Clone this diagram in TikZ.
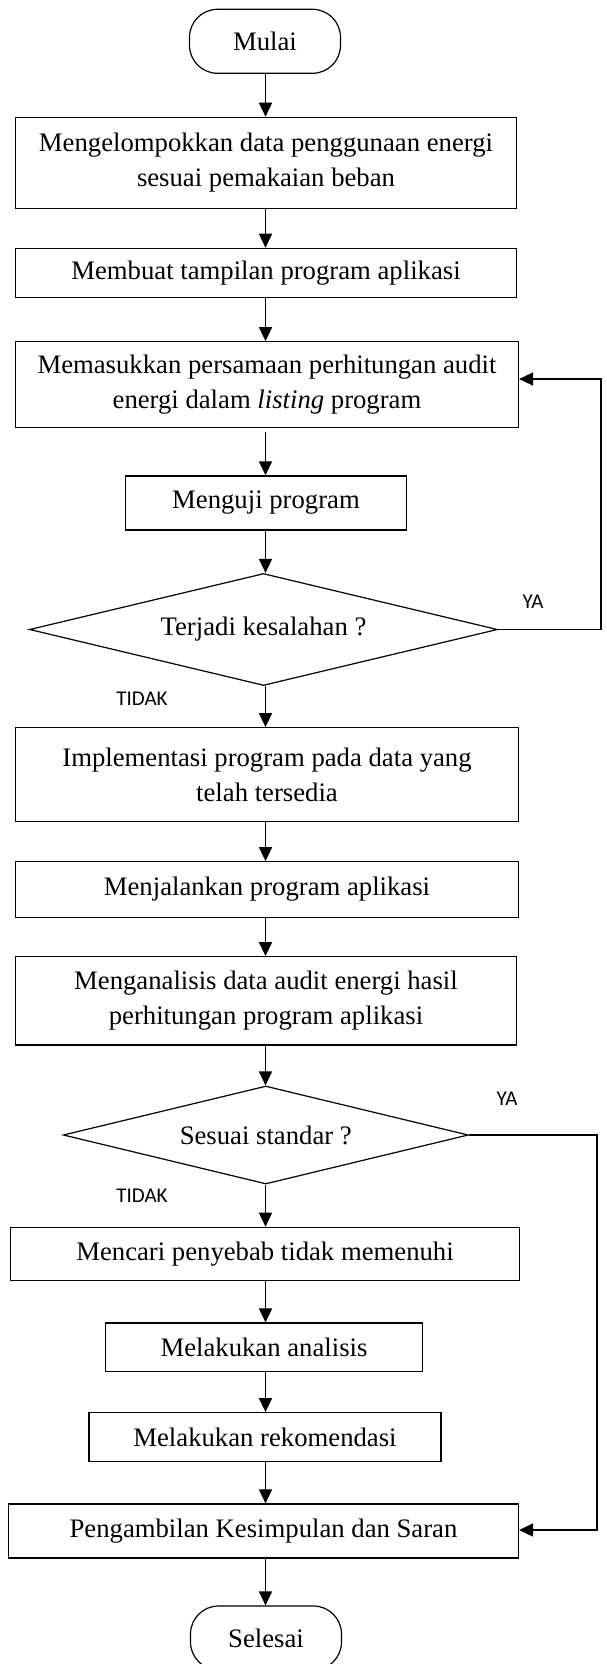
\documentclass[tikz,border=0pt]{standalone}
\usepackage{fontspec}
\setmainfont{Liberation Serif}
\newfontfamily\labelfont{Carlito}
\usetikzlibrary{shapes.geometric,arrows.meta}
\begin{document}
\begin{tikzpicture}[x=1pt,y=-1pt,
  txt/.style={font=\fontsize{26.7}{34.5}\selectfont},
  box/.style={txt, draw, line width=1.2pt, rectangle, inner sep=0pt, align=center},
  term/.style={txt, draw, line width=1.2pt, rounded corners=28pt, minimum width=151pt, minimum height=64pt, inner sep=0pt},
  dec/.style={txt, draw, line width=1.2pt, diamond, inner sep=0pt},
  conn/.style={line width=1.6pt, -{Triangle[width=13pt,length=14pt]}},
  lbl/.style={font=\labelfont\fontsize{21}{25}\selectfont, inner sep=0pt}
]
\useasboundingbox (0,0) rectangle (606,1664);

\node[term] (start) at (265,41.3) {Mulai};
\node[box, minimum width=501pt, minimum height=91pt] (b1) at (266,162.8)
  {Mengelompokkan data penggunaan energi\\sesuai pemakaian beban};
\node[box, minimum width=501pt, minimum height=49pt] (b2) at (266,272.8)
  {Membuat tampilan program aplikasi};
\node[box, minimum width=503pt, minimum height=86pt] (b3) at (267,384.7)
  {Memasukkan persamaan perhitungan audit\\energi dalam \textit{listing} program};
\node[box, minimum width=281pt, minimum height=54pt] (b4) at (266,502.9)
  {Menguji program};
\node[dec, minimum width=468pt, minimum height=112pt, aspect=4.18] (d1) at (263.5,629.5)
  {Terjadi kesalahan ?};
\node[box, minimum width=503pt, minimum height=94pt] (b5) at (267,774.7)
  {Implementasi program pada data yang\\telah tersedia};
\node[box, minimum width=503pt, minimum height=55.6pt] (b6) at (267,889.5)
  {Menjalankan program aplikasi};
\node[box, minimum width=501pt, minimum height=88.3pt] (b7) at (266,1000.8)
  {Menganalisis data audit energi hasil\\perhitungan program aplikasi};
\node[dec, minimum width=405pt, minimum height=98pt, aspect=4.13] (d2) at (265.8,1135)
  {Sesuai standar ?};
\node[box, minimum width=509pt, minimum height=53.4pt] (b8) at (265,1254)
  {Mencari penyebab tidak memenuhi};
\node[box, minimum width=317pt, minimum height=48.7pt] (b9) at (264,1347.4)
  {Melakukan analisis};
\node[box, minimum width=352pt, minimum height=49pt] (b10) at (265,1437.2)
  {Melakukan rekomendasi};
\node[box, minimum width=510pt, minimum height=54pt] (b11) at (263.5,1531)
  {Pengambilan Kesimpulan dan Saran};
\node[term] (stop) at (266,1638) {Selesai};

\node[lbl] (ya1) at (533,602) {YA};
\node[lbl] (tidak1) at (142,699) {TIDAK};
\node[lbl] (ya2) at (507,1099) {YA};
\node[lbl] (tidak2) at (142,1196) {TIDAK};

\coordinate (ax) at (265.5,0);
\draw[conn] (start.south -| ax) -- (b1.north -| ax);
\draw[conn] (b1.south -| ax) -- (b2.north -| ax);
\draw[conn] (b2.south -| ax) -- (b3.north -| ax);
\draw[conn, shorten <=4pt] (b3.south -| ax) -- (b4.north -| ax);
\draw[conn] (b4.south -| ax) -- (d1.north -| ax);
\draw[conn] (d1.south -| ax) -- (b5.north -| ax);
\draw[conn] (b5.south -| ax) -- (b6.north -| ax);
\draw[conn] (b6.south -| ax) -- (b7.north -| ax);
\draw[conn] (b7.south -| ax) -- (d2.north -| ax);
\draw[conn] (d2.south -| ax) -- (b8.north -| ax);
\draw[conn] (b8.south -| ax) -- (b9.north -| ax);
\draw[conn] (b9.south -| ax) -- (b10.north -| ax);
\draw[conn] (b10.south -| ax) -- (b11.north -| ax);
\draw[conn] (b11.south -| ax) -- (stop.north -| ax);

\coordinate (l1) at (601,629.5);
\coordinate (l2) at (601,379);
\draw[conn] (d1.east) -- (l1) -- (l2) -- (b3.east |- l2);

\coordinate (r1) at (597,1135);
\coordinate (r2) at (597,1530);
\draw[conn] (d2.east) -- (r1) -- (r2) -- (b11.east |- r2);
\end{tikzpicture}
\end{document}
